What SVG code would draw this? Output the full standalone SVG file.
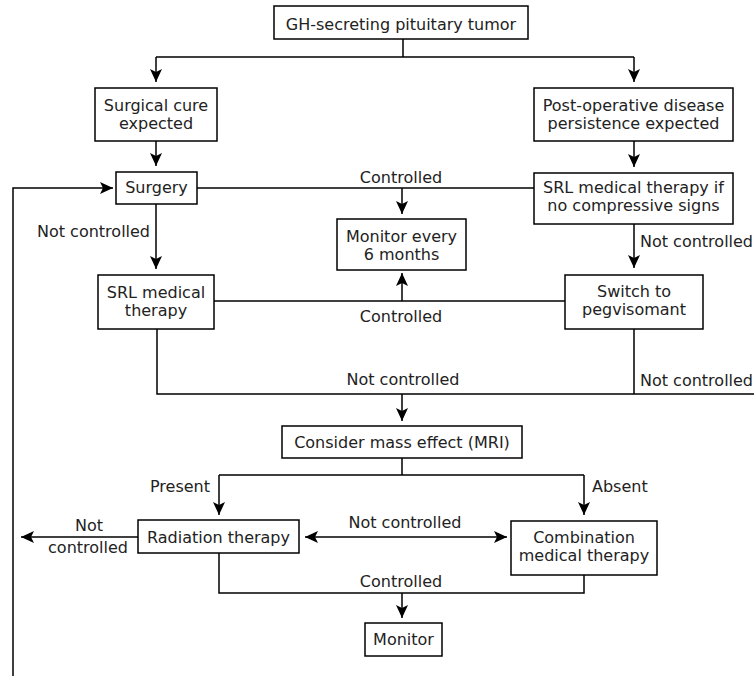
<svg xmlns="http://www.w3.org/2000/svg" width="754" height="676" viewBox="0 0 754 676">
<style>
.box{fill:#fff;stroke:#000;stroke-width:1.5}
.t{font-family:"DejaVu Sans",Verdana,sans-serif;font-size:16px;fill:#222;text-anchor:middle}
.s{text-anchor:start}
.e{text-anchor:end}
.ln{fill:none;stroke:#000;stroke-width:1.5}
.ar{marker-end:url(#ah)}
</style>
<defs>
<marker id="ah" viewBox="-14 -7 14 14" refX="0" refY="0" markerWidth="14" markerHeight="14" markerUnits="userSpaceOnUse" orient="auto-start-reverse">
<path d="M0,0 L-13,-6 L-10,0 L-13,6 Z" fill="#000"/>
</marker>
</defs>
<rect width="754" height="676" fill="#fff"/>
<g id="connectors">
<path class="ln" d="M403,39 V57 M156,57 H634"/>
<path class="ln ar" d="M156,57 V82"/>
<path class="ln ar" d="M634,57 V82"/>
<path class="ln ar" d="M156,141 V166"/>
<path class="ln ar" d="M634,141 V167"/>
<path class="ln" d="M197,188 H534"/>
<path class="ln ar" d="M402,188 V214"/>
<path class="ln ar" d="M156,204 V269"/>
<path class="ln ar" d="M634,224 V268"/>
<path class="ln" d="M214,301 H565"/>
<path class="ln ar" d="M402,301 V273"/>
<path class="ln" d="M157,329 V394 H754 M634,329 V394"/>
<path class="ln ar" d="M402,394 V421"/>
<path class="ln" d="M402,458 V475 M219,475 H584"/>
<path class="ln ar" d="M219,475 V515"/>
<path class="ln ar" d="M584,475 V515"/>
<path class="ln ar" d="M305,537 H507" marker-start="url(#ah)"/>
<path class="ln ar" d="M138,537 H21"/>
<path class="ln" d="M219,553 V593 H584 V575"/>
<path class="ln ar" d="M402,593 V618"/>
<path class="ln ar" d="M13,676 V188 H113"/>
<text class="t" x="401" y="183">Controlled</text>
<text class="t s" x="37" y="237">Not controlled</text>
<text class="t s" x="640" y="247">Not controlled</text>
<text class="t" x="401" y="322">Controlled</text>
<text class="t" x="403" y="385">Not controlled</text>
<text class="t s" x="640" y="386">Not controlled</text>
<text class="t e" x="210" y="492">Present</text>
<text class="t s" x="592" y="492">Absent</text>
<text class="t" x="405" y="528">Not controlled</text>
<text class="t" x="89" y="531">Not</text>
<text class="t" x="88" y="553">controlled</text>
<text class="t" x="401" y="587">Controlled</text>
</g>
<g id="n-tumor"><rect class="box" x="274" y="6" width="254" height="33"/><text class="t" x="401" y="30">GH-secreting pituitary tumor</text></g>
<g id="n-cure"><rect class="box" x="95" y="88" width="122" height="53"/><text class="t" x="156" y="111">Surgical cure</text><text class="t" x="156" y="129">expected</text></g>
<g id="n-persist"><rect class="box" x="534" y="88" width="199" height="53"/><text class="t" x="633.5" y="111">Post-operative disease</text><text class="t" x="633.5" y="129">persistence expected</text></g>
<g id="n-surgery"><rect class="box" x="116" y="172" width="81" height="32"/><text class="t" x="156.5" y="193">Surgery</text></g>
<g id="n-srl-if"><rect class="box" x="534" y="173" width="199" height="51"/><text class="t" x="633.5" y="193">SRL medical therapy if</text><text class="t" x="633.5" y="211">no compressive signs</text></g>
<g id="n-monitor6"><rect class="box" x="337" y="219" width="129" height="51"/><text class="t" x="401.5" y="242">Monitor every</text><text class="t" x="401.5" y="260">6 months</text></g>
<g id="n-srl"><rect class="box" x="98" y="275" width="116" height="54"/><text class="t" x="156" y="298">SRL medical</text><text class="t" x="156" y="316">therapy</text></g>
<g id="n-switch"><rect class="box" x="565" y="275" width="138" height="54"/><text class="t" x="634" y="297">Switch to</text><text class="t" x="634" y="315">pegvisomant</text></g>
<g id="n-mass"><rect class="box" x="282" y="426" width="240" height="32"/><text class="t" x="402" y="448">Consider mass effect (MRI)</text></g>
<g id="n-radiation"><rect class="box" x="138" y="520" width="161" height="33"/><text class="t" x="218.5" y="543">Radiation therapy</text></g>
<g id="n-combination"><rect class="box" x="511" y="521" width="146" height="54"/><text class="t" x="584" y="543">Combination</text><text class="t" x="584" y="561">medical therapy</text></g>
<g id="n-monitor"><rect class="box" x="365" y="623" width="77" height="33"/><text class="t" x="403.5" y="645">Monitor</text></g>
</svg>
